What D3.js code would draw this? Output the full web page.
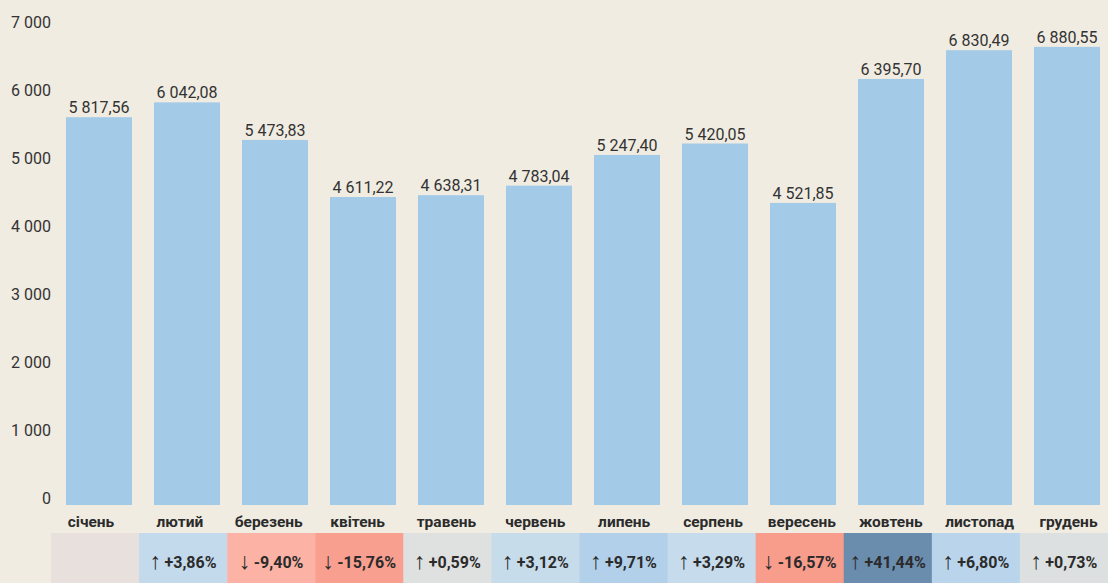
<!DOCTYPE html>
<html>
<head>
<meta charset="utf-8">
<title>bars</title>
<script src="https://cdn.jsdelivr.net/npm/d3@7"></script>
<style>
body { margin: 0; background: #f0ece2; }
svg { display: block; font-family: Roboto, sans-serif; }
</style>
</head>
<body>
<script>
var months = ["січень","лютий","березень","квітень","травень","червень","липень","серпень","вересень","жовтень","листопад","грудень"];
var values = [5817.56, 6042.08, 5473.83, 4611.22, 4638.31, 4783.04, 5247.40, 5420.05, 4521.85, 6395.70, 6830.49, 6880.55];
var changes = [null, 3.86, -9.40, -15.76, 0.59, 3.12, 9.71, 3.29, -16.57, 41.44, 6.80, 0.73];
var yTicks = [0, 1000, 2000, 3000, 4000, 5000, 6000, 7000];

var width = 1108, height = 583;

var svg = d3.select("body").append("svg")
    .attr("width", width)
    .attr("height", height);

svg.append("rect").attr("width", width).attr("height", height).attr("fill", "#f0ece2");

var x = d3.scaleBand()
    .domain(months)
    .range([55, 1111])
    .paddingInner(0.25)
    .paddingOuter(0.125);

var y = d3.scaleLinear()
    .domain([0, 7000])
    .range([502, 39]);

// tick labels sit on their own spacing
var yLab = d3.scaleLinear()
    .domain([0, 7000])
    .range([498, 22]);

var xLab = d3.scalePoint()
    .domain(months)
    .range([91, 1068.5]);

var cell = d3.scaleBand()
    .domain(months)
    .range([51, 1108]);

var fmt = d3.formatLocale({decimal: ",", thousands: "\u00a0", grouping: [3], currency: ["", ""]});
var fmtVal = fmt.format(",.2f");
var fmtTick = fmt.format(",");
var fmtPct = fmt.format("+.2f");

var cellColor = d3.scaleLinear()
    .domain([-16.57, -9.4, 0, 3.5, 9.71, 41.44])
    .range(["#f89c8c", "#fcb3a5", "#e4e1dd", "#c4dbec", "#b2d0ea", "#6a8cad"]);

svg.append("g").selectAll("text")
    .data(yTicks)
    .enter().append("text")
    .attr("x", 51)
    .attr("y", function(d){ return yLab(d); })
    .attr("dy", "0.35em")
    .attr("text-anchor", "end")
    .attr("fill", "#333")
    .style("font-size", "16px")
    .text(function(d){ return fmtTick(d); });

svg.append("g").selectAll("rect")
    .data(values)
    .enter().append("rect")
    .attr("x", function(d,i){ return x(months[i]); })
    .attr("y", function(d){ return y(d); })
    .attr("width", x.bandwidth())
    .attr("height", function(d){ return y(0) - y(d) + 3; })
    .attr("fill", "#a3cbe8");

svg.append("g").selectAll("text")
    .data(values)
    .enter().append("text")
    .attr("x", function(d,i){ return x(months[i]) + x.bandwidth()/2; })
    .attr("y", function(d){ return y(d) - 4; })
    .attr("text-anchor", "middle")
    .attr("fill", "#333")
    .style("font-size", "16px")
    .text(function(d){ return fmtVal(d); });

svg.append("g").selectAll("text")
    .data(months)
    .enter().append("text")
    .attr("x", function(d){ return xLab(d); })
    .attr("y", 527)
    .attr("text-anchor", "middle")
    .attr("fill", "#2b2b2b")
    .style("font-size", "15.5px")
    .style("font-weight", "bold")
    .text(function(d){ return d; });

var cells = svg.append("g").selectAll("g")
    .data(changes)
    .enter().append("g");

cells.append("rect")
    .attr("x", function(d,i){ return cell(months[i]); })
    .attr("y", 533)
    .attr("width", cell.bandwidth() + 0.5)
    .attr("height", 50)
    .attr("fill", function(d){ return d === null ? "#e8e0dd" : cellColor(d); });

var pct = cells.filter(function(d){ return d !== null; }).append("text")
    .attr("x", function(d){ return cell(months[changes.indexOf(d)]) + cell.bandwidth()/2; })
    .attr("y", 568)
    .attr("text-anchor", "middle")
    .attr("fill", "#2b2b2b")
    .style("font-size", "16px")
    .style("font-weight", "bold");

pct.append("tspan")
    .style("font-size", "23px")
    .style("font-weight", "normal")
    .attr("dy", 1)
    .text(function(d){ return d >= 0 ? "\u2191" : "\u2193"; });

pct.append("tspan")
    .attr("dy", -1)
    .text(function(d){ return "\u2009" + fmtPct(d).replace("\u2212", "-") + "%"; });
</script>
</body>
</html>
